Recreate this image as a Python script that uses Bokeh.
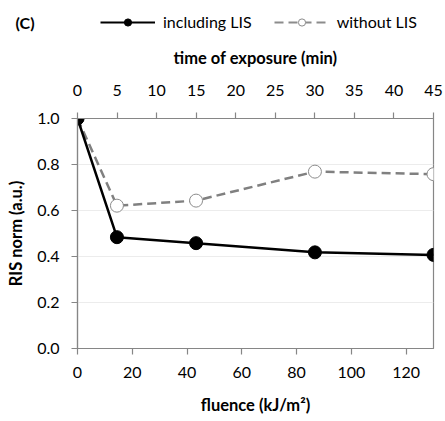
from bokeh.plotting import figure
from bokeh.models import (LinearAxis, Range1d, Legend, LegendItem, Label,
                          FixedTicker, NumeralTickFormatter)
from bokeh.embed import file_html
from bokeh.resources import INLINE

# data
fluence = [0, 14.4, 43.3, 86.7, 130]
including_lis = [1.0, 0.484, 0.458, 0.418, 0.407]
without_lis = [1.0, 0.621, 0.643, 0.769, 0.758]
x_ticks = [0, 20, 40, 60, 80, 100, 120]
y_ticks = [0.0, 0.2, 0.4, 0.6, 0.8, 1.0]
time_ticks = [0, 5, 10, 15, 20, 25, 30, 35, 40, 45]
series_names = ["including LIS", "without LIS"]

FONT = "Lato"
AX = "#868686"
TOP_H = 44

# ---- header strip: panel letter and legend ----
hdr = figure(width=445, height=TOP_H, output_backend="svg",
             toolbar_location=None, x_range=Range1d(0, 445),
             y_range=Range1d(0, TOP_H), min_border=0,
             border_fill_color="white", background_fill_color="white")
hdr.outline_line_color = None
hdr.xaxis.visible = False
hdr.yaxis.visible = False
hdr.grid.visible = False

off = [-100]  # placeholder point outside the strip: only the legend swatch shows
hl1 = hdr.line(off, off, line_color="black", line_width=2.2)
hs1 = hdr.scatter(off, off, size=8, marker="circle", fill_color="black",
                  line_color="black")
hl2 = hdr.line(off, off, line_color="#8c8c8c", line_width=2.2, line_dash="9 5")
hs2 = hdr.scatter(off, off, size=8, marker="circle", fill_color="white",
                  line_color="#8c8c8c", line_width=1)
legend = Legend(items=[LegendItem(label=series_names[0], renderers=[hl1, hs1]),
                       LegendItem(label=series_names[1], renderers=[hl2, hs2])],
                orientation="horizontal", location=(100, 13),
                glyph_width=55, glyph_height=18, label_height=18,
                label_standoff=8, spacing=22,
                padding=0, margin=0, border_line_alpha=0,
                background_fill_alpha=0, label_text_font=FONT,
                label_text_font_size="16px", label_text_color="black")
hdr.add_layout(legend)
hdr.add_layout(Label(x=15, y=TOP_H - 22, text="(C)", text_font=FONT,
                     text_font_style="bold", text_font_size="16px",
                     text_baseline="middle", text_color="black"))

# ---- main chart ----
p = figure(width=445, height=421 - TOP_H, output_backend="svg",
           toolbar_location=None,
           x_range=Range1d(0, 130), y_range=Range1d(0, 1.0),
           min_border_left=77, min_border_right=12,
           min_border_top=118 - TOP_H, min_border_bottom=73,
           background_fill_color="white", border_fill_color="white")
p.outline_line_color = AX
p.outline_line_width = 1.2
p.extra_x_ranges = {"time": Range1d(0, 45)}

p.xgrid.visible = False
p.ygrid.grid_line_color = "#ececec"
p.ygrid.ticker = FixedTicker(ticks=y_ticks)


def style_axis(ax):
    ax.axis_line_color = AX
    ax.axis_line_width = 1.2
    ax.major_tick_line_color = AX
    ax.major_tick_line_width = 1.2
    ax.major_tick_out = 6
    ax.major_tick_in = 0
    ax.minor_tick_line_color = None
    ax.major_label_text_font = FONT
    ax.major_label_text_font_size = "16px"
    ax.major_label_text_color = "black"
    ax.axis_label_text_font = FONT
    ax.axis_label_text_font_style = "bold"
    ax.axis_label_text_font_size = "16.5px"
    ax.axis_label_text_color = "black"


xa = p.xaxis[0]
xa.ticker = FixedTicker(ticks=x_ticks)
xa.axis_label = "fluence (kJ/m²)"
style_axis(xa)
xa.major_label_standoff = 12
xa.axis_label_standoff = 14

ya = p.yaxis[0]
ya.ticker = FixedTicker(ticks=y_ticks)
ya.formatter = NumeralTickFormatter(format="0.0")
ya.axis_label = "RIS norm (a.u.)"
style_axis(ya)
ya.major_label_standoff = 12
ya.axis_label_standoff = 8

ta = LinearAxis(x_range_name="time", ticker=FixedTicker(ticks=time_ticks),
                axis_label="time of exposure (min)")
style_axis(ta)
ta.major_label_standoff = 17
ta.axis_label_standoff = 14
p.add_layout(ta, "above")

p.line(fluence, without_lis, line_color="#808080", line_width=2.5,
       line_dash="9 5")
p.scatter(fluence, without_lis, size=13, marker="circle",
          fill_color="white", line_color="#8c8c8c", line_width=1)
p.line(fluence, including_lis, line_color="black", line_width=2.5)
p.scatter(fluence, including_lis, size=13, marker="circle",
          fill_color="black", line_color="black")

open("out.html", "w").write(file_html([hdr, p], INLINE))
